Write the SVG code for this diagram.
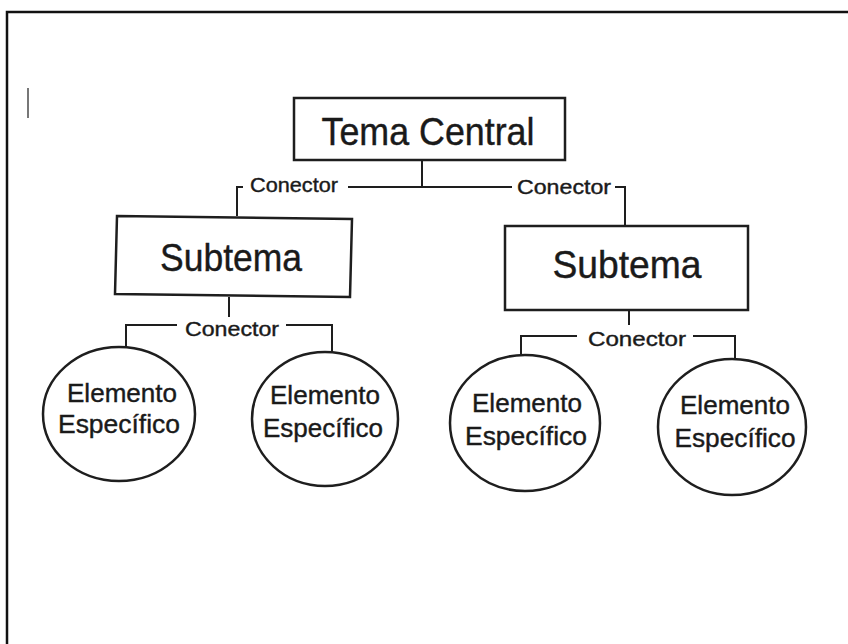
<svg xmlns="http://www.w3.org/2000/svg" width="848" height="644" viewBox="0 0 848 644">
<style>
.box{fill:#fff;stroke:#1e1e1e;stroke-width:2.5}
.ell{fill:#fff;stroke:#1e1e1e;stroke-width:2.5}
.ln{fill:none;stroke:#1e1e1e;stroke-width:2}
text{font-family:"Liberation Sans",Arial,sans-serif;fill:#1a1a1a;text-anchor:middle;stroke:#1a1a1a;stroke-width:0.4}
.t1{font-size:38px}
.t2{font-size:38px}
.t3{font-size:26px}
.c{font-size:21px}
</style>
<rect width="848" height="644" fill="#fff"/>
<g id="frame">
<path d="M7,644 V12 H848" fill="none" stroke="#111" stroke-width="2.5"/>
<line x1="28" y1="88" x2="28" y2="118" stroke="#777" stroke-width="2"/>
</g>
<g id="connectors">
<path class="ln" d="M422,160 V187"/>
<path class="ln" d="M348,187 H512"/>
<path class="ln" d="M243,187 H237 V216"/>
<path class="ln" d="M615,187 H625 V226"/>
<path class="ln" d="M229,297 V317"/>
<path class="ln" d="M177,325 H126 V347"/>
<path class="ln" d="M286,325 H332 V352"/>
<path class="ln" d="M629,310 V325"/>
<path class="ln" d="M577,336 H521 V356"/>
<path class="ln" d="M693,336 H735 V359"/>
<text class="c" x="294" y="192" textLength="88" lengthAdjust="spacingAndGlyphs">Conector</text>
<text class="c" x="564" y="194" textLength="94" lengthAdjust="spacingAndGlyphs">Conector</text>
<text class="c" x="232" y="336" textLength="94" lengthAdjust="spacingAndGlyphs">Conector</text>
<text class="c" x="637" y="346" textLength="98" lengthAdjust="spacingAndGlyphs">Conector</text>
</g>
<g id="tema-central">
<rect class="box" x="294" y="98" width="271" height="62"/>
<text class="t1" x="428" y="145" textLength="213" lengthAdjust="spacingAndGlyphs">Tema Central</text>
</g>
<g id="subtema-1">
<polygon class="box" points="117,216 352,219 350,297 115,294"/>
<text class="t2" x="231" y="271" textLength="142" lengthAdjust="spacingAndGlyphs">Subtema</text>
</g>
<g id="subtema-2">
<rect class="box" x="505" y="226" width="243" height="84"/>
<text class="t2" x="627" y="278" textLength="149" lengthAdjust="spacingAndGlyphs">Subtema</text>
</g>
<g id="elemento-1">
<ellipse class="ell" cx="119" cy="414" rx="76" ry="67"/>
<text class="t3" x="122" y="402" textLength="110" lengthAdjust="spacingAndGlyphs">Elemento</text>
<text class="t3" x="119" y="433" textLength="122" lengthAdjust="spacingAndGlyphs">Específico</text>
</g>
<g id="elemento-2">
<ellipse class="ell" cx="325" cy="419" rx="73" ry="67"/>
<text class="t3" x="325" y="404" textLength="110" lengthAdjust="spacingAndGlyphs">Elemento</text>
<text class="t3" x="323" y="437" textLength="120" lengthAdjust="spacingAndGlyphs">Específico</text>
</g>
<g id="elemento-3">
<ellipse class="ell" cx="525" cy="423" rx="75" ry="68"/>
<text class="t3" x="527" y="412" textLength="110" lengthAdjust="spacingAndGlyphs">Elemento</text>
<text class="t3" x="526" y="445" textLength="122" lengthAdjust="spacingAndGlyphs">Específico</text>
</g>
<g id="elemento-4">
<ellipse class="ell" cx="732" cy="427" rx="74" ry="68"/>
<text class="t3" x="735" y="414" textLength="110" lengthAdjust="spacingAndGlyphs">Elemento</text>
<text class="t3" x="735" y="447" textLength="121" lengthAdjust="spacingAndGlyphs">Específico</text>
</g>
</svg>
